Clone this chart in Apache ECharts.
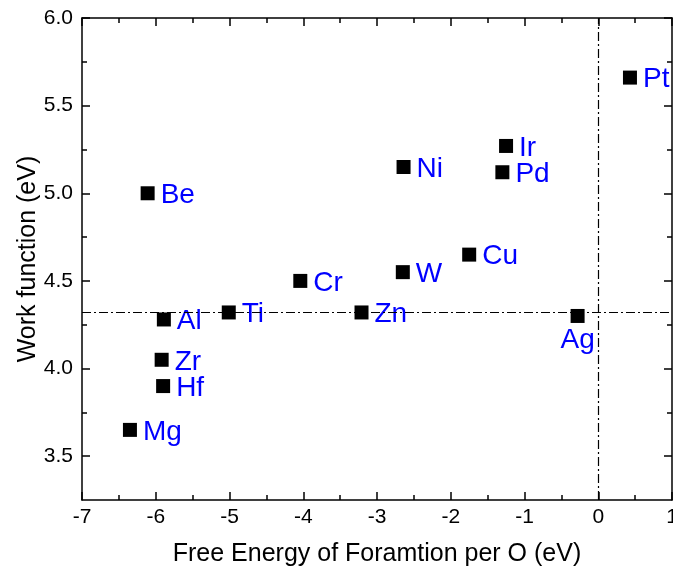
<!DOCTYPE html>
<html>
<head>
<meta charset="utf-8">
<script src="https://cdn.jsdelivr.net/npm/echarts@6/dist/echarts.min.js"></script>
<style>
html,body{margin:0;padding:0;background:#fff;}
#chart{width:673px;height:575px;}
</style>
</head>
<body>
<div id="chart"></div>
<script>
// Data
const elements = ['Be','Mg','Al','Zr','Hf','Ti','Cr','Zn','W','Ni','Cu','Ir','Pd','Ag','Pt'];
const freeEnergy = [-6.11,-6.35,-5.89,-5.92,-5.90,-5.01,-4.04,-3.21,-2.65,-2.64,-1.75,-1.25,-1.30,-0.28,0.43];
const workFunction = [5.00,3.65,4.28,4.05,3.90,4.32,4.50,4.32,4.55,5.15,4.65,5.27,5.12,4.30,5.66];
const yMajorTicks = [3.5,4.0,4.5,5.0,5.5,6.0];
const yMinorTicks = [3.75,4.25,4.75,5.25,5.75];
const refLineY = 4.32;
const refLineX = 0;

const labelBelow = {'Ag': true};

const FONT = '"Liberation Sans", Arial, sans-serif';

const points = elements.map((name, i) => {
  const item = { name: name, value: [freeEnergy[i], workFunction[i]] };
  if (labelBelow[name]) item.label = { position: 'bottom', distance: 3, offset: [0, 0] };
  return item;
});

const chart = echarts.init(document.getElementById('chart'), null, { renderer: 'canvas' });

const axisLineStyle = { color: '#000', width: 1.5 };

const xBase = {
  type: 'value', min: -7, max: 1, interval: 1,
  splitLine: { show: false },
  axisLine: { show: true, onZero: false, lineStyle: axisLineStyle },
  axisTick: { show: true, inside: true, length: 8, lineStyle: { color: '#000', width: 1.5 } },
  minorTick: { show: true, splitNumber: 2, length: 5, lineStyle: { color: '#000', width: 1.5 } },
  minorSplitLine: { show: false }
};

const yBase = {
  type: 'value', min: 3.25, max: 6.0, interval: 0.25,
  splitLine: { show: false },
  axisLine: { show: true, onZero: false, lineStyle: axisLineStyle }
};

chart.setOption({
  animation: false,
  backgroundColor: '#fff',
  grid: { left: 82, right: 1, top: 18, bottom: 75, containLabel: false, outerBoundsMode: 'none' },
  xAxis: [
    Object.assign({}, xBase, {
      position: 'bottom',
      name: 'Free Energy of Foramtion per O (eV)',
      nameLocation: 'middle', nameGap: 42, nameMoveOverlap: false,
      nameTextStyle: { fontFamily: FONT, fontSize: 25, color: '#000' },
      axisLabel: { show: true, margin: 7, fontFamily: FONT, fontSize: 21, color: '#000' }
    }),
    Object.assign({}, xBase, {
      position: 'top',
      axisLabel: { show: false }
    })
  ],
  yAxis: [
    Object.assign({}, yBase, {
      position: 'left',
      name: 'Work function (eV)',
      nameLocation: 'middle', nameGap: 41, nameMoveOverlap: false,
      nameTextStyle: { fontFamily: FONT, fontSize: 25, color: '#000' },
      axisTick: { show: true, inside: true, length: 8, customValues: yMajorTicks, lineStyle: { color: '#000', width: 1.5 } },
      axisLabel: { show: true, margin: 9, fontFamily: FONT, fontSize: 21, color: '#000',
        customValues: yMajorTicks, formatter: v => Number(v).toFixed(1) }
    }),
    Object.assign({}, yBase, {
      position: 'left',
      axisLine: { show: false, onZero: false },
      axisTick: { show: true, inside: true, length: 5, customValues: yMinorTicks, lineStyle: { color: '#000', width: 1.5 } },
      axisLabel: { show: false }
    }),
    Object.assign({}, yBase, {
      position: 'right',
      axisTick: { show: true, inside: true, length: 8, customValues: yMajorTicks, lineStyle: { color: '#000', width: 1.5 } },
      axisLabel: { show: false }
    }),
    Object.assign({}, yBase, {
      position: 'right',
      axisLine: { show: false, onZero: false },
      axisTick: { show: true, inside: true, length: 5, customValues: yMinorTicks, lineStyle: { color: '#000', width: 1.5 } },
      axisLabel: { show: false }
    })
  ],
  series: [
    {
      type: 'scatter',
      xAxisIndex: 0, yAxisIndex: 0,
      symbol: 'rect', symbolSize: 14,
      itemStyle: { color: '#000', opacity: 1 },
      label: {
        show: true, position: 'right', distance: 6, offset: [0, 2],
        formatter: '{b}', color: '#0000ff', fontFamily: FONT, fontSize: 28
      },
      data: points,
      markLine: {
        silent: true, symbol: 'none',
        label: { show: false },
        lineStyle: { color: '#000', width: 1.2, opacity: 1, type: [9, 3, 2, 3] },
        data: [ { yAxis: refLineY }, { xAxis: refLineX } ]
      },
      z: 3
    }
  ]
});
</script>
</body>
</html>
